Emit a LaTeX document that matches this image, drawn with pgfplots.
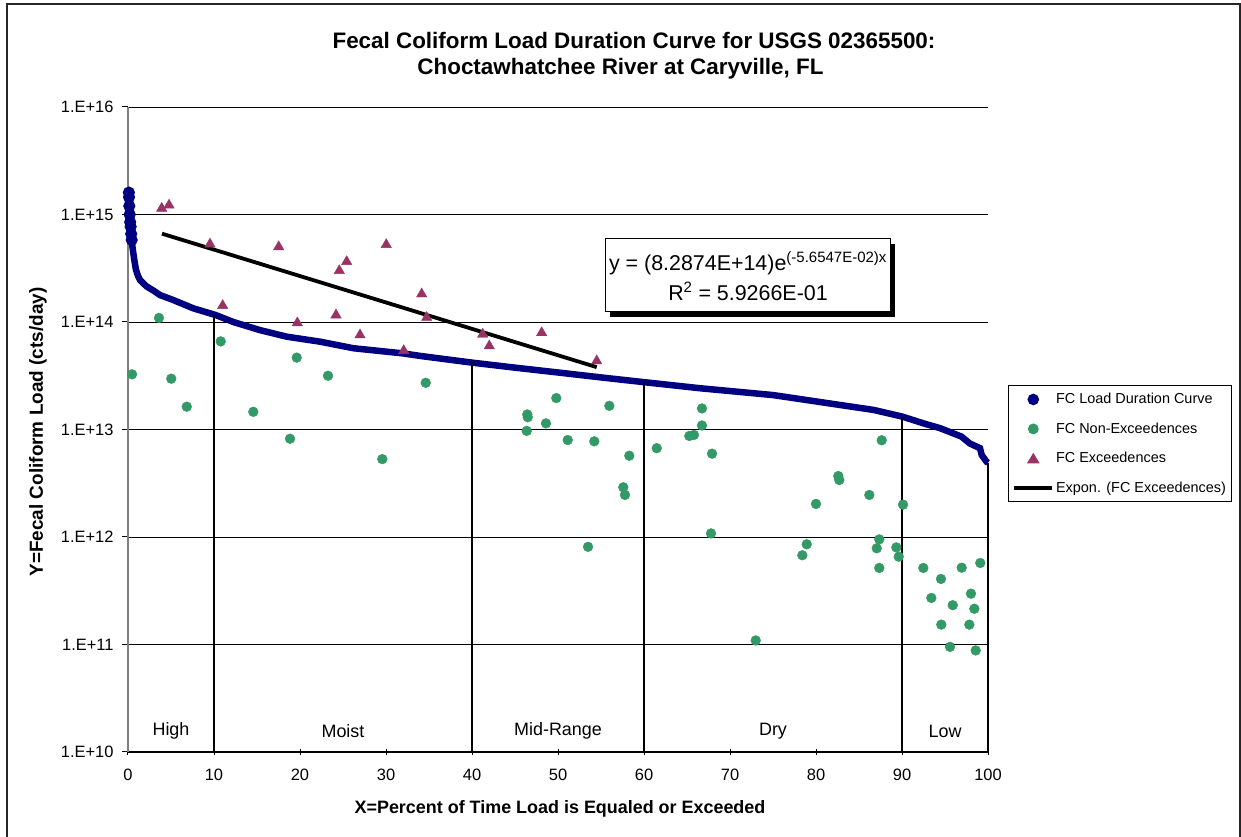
\documentclass[border=0pt]{standalone}
\usepackage{fontspec}
\setmainfont{Liberation Sans}
\usepackage{pgfplots}
\pgfplotsset{compat=1.18}
\definecolor{navy}{RGB}{0,0,128}
\definecolor{seagreen}{RGB}{51,153,102}
\definecolor{plum}{RGB}{153,51,102}
\begin{document}
\begin{tikzpicture}
\useasboundingbox (0,0) rectangle (1241bp,837bp);
\fill[white] (0,0) rectangle (1241bp,837bp);
\draw[line width=2bp, black!85] (7bp,-10bp) -- (7bp,833bp) -- (1240bp,833bp) -- (1240bp,-10bp);
% title
\node[anchor=base, font=\fontsize{22.5}{26}\selectfont\bfseries] at (634bp,788bp) {Fecal Coliform Load Duration Curve for USGS 02365500:};
\node[anchor=base, font=\fontsize{22.5}{26}\selectfont\bfseries] at (620.5bp,762bp) {Choctawhatchee River at Caryville, FL};
% axis labels
\node[rotate=90, font=\fontsize{19}{22}\selectfont\bfseries] at (38bp,405bp) {Y=Fecal Coliform Load (cts/day)};
\node[font=\fontsize{18}{21}\selectfont\bfseries] at (560bp,28bp) {X=Percent of Time Load is Equaled or Exceeded};
\begin{axis}[
  at={(128bp,85bp)}, anchor=south west,
  scale only axis, width=860bp, height=645bp,
  xmin=0, xmax=100, ymin=1e10, ymax=1e16, ymode=log,
  axis x line*=bottom, axis y line*=left,
  x axis line style={black, line width=1bp},
  y axis line style={black!50, line width=1.5bp},
  xtick={0,10,...,100},
  ytick={1e10,1e11,1e12,1e13,1e14,1e15,1e16},
  yticklabels={1.E+10,1.E+11,1.E+12,1.E+13,1.E+14,1.E+15,1.E+16},
  yminorticks=false,
  ymajorgrids, major grid style={black, line width=0.8bp},
  xtick align=center, ytick align=outside,
  major tick length=6bp,
  tick style={black, line width=1bp},
  ticklabel style={font=\fontsize{16.5}{19}\selectfont},
  yticklabel style={xshift=-5bp},
  xticklabel style={yshift=-11bp},
  /pgf/number format/assume math mode=true,
  clip=false,
  legend cell align=left,
  legend style={at={(1.0233,0.569)}, anchor=north west, draw=black, line width=1bp, fill=white,
    font=\fontsize{14.5}{17}\selectfont, inner xsep=4bp, inner ysep=6bp, row sep=13.5bp,
    nodes={inner sep=2bp}},
]
% load duration curve
\addplot[navy, line width=6.5bp, mark=*, mark size=2.6bp, mark indices={1,...,8},
  legend image code/.code={\fill[navy] (23bp,0bp) circle (2.3bp);}] coordinates {
(0.1,1.6e15) (0.12,1.45e15) (0.15,1.2e15) (0.2,1.0e15) (0.25,8.5e14) (0.31,7.7e14)
(0.37,6.6e14) (0.43,5.8e14) (0.52,5.0e14) (0.62,4.36e14) (0.75,3.7e14) (0.93,3.05e14)
(1.15,2.7e14) (1.4,2.46e14) (1.8,2.28e14) (2.17,2.14e14) (3.0,1.95e14) (3.72,1.78e14)
(5.27,1.6e14) (7.59,1.34e14) (10.2,1.16e14) (12.24,1.0e14) (15.35,8.4e13) (18.45,7.3e13)
(22.33,6.56e13) (26.2,5.7e13) (32.0,5.1e13) (34,4.83e13) (40.08,4.18e13) (45,3.76e13)
(50,3.39e13) (55,3.05e13) (60.1,2.75e13) (66.5,2.42e13) (75,2.09e13) (78.9,1.88e13)
(82.8,1.69e13) (86.7,1.52e13) (90,1.32e13) (92.5,1.14e13) (94.4,1.03e13) (96.9,8.6e12)
(97.9,7.4e12) (99.07,6.7e12) (99.26,5.8e12) (99.84,5.0e12) (100,4.9e12)
};
\addlegendentry{FC Load Duration Curve}
% non-exceedences
\addplot[only marks, mark=*, mark size=4.9bp, color=seagreen, fill=seagreen,
  legend image code/.code={\fill[seagreen] (23bp,0bp) circle (4.9bp);}] coordinates {
(0.47,3.26e13) (3.6,1.09e14) (5.03,2.97e13) (6.83,1.63e13) (10.78,6.6e13) (14.57,1.46e13)
(18.84,8.2e12) (19.62,4.66e13) (23.26,3.16e13) (29.57,5.3e12) (34.62,2.72e13)
(46.43,1.38e13) (46.48,1.30e13) (46.36,9.7e12) (48.6,1.14e13) (49.8,1.96e13) (51.13,7.98e12)
(54.22,7.76e12) (55.97,1.66e13) (58.29,5.7e12) (57.59,2.9e12) (57.79,2.46e12) (53.49,8.1e11)
(61.48,6.7e12) (65.27,8.7e12) (65.81,8.9e12) (66.74,1.57e13) (66.74,1.09e13) (67.91,5.96e12)
(67.79,1.08e12) (72.99,1.09e11) (80.0,2.03e12) (82.59,3.69e12) (82.71,3.39e12) (86.2,2.46e12)
(87.64,7.94e12) (90.12,2.0e12) (87.36,9.5e11) (87.06,7.85e11) (89.34,8.0e11) (89.62,6.56e11)
(78.92,8.55e11) (78.41,6.76e11) (87.36,5.15e11) (92.48,5.15e11) (94.53,4.07e11) (96.94,5.18e11)
(99.1,5.73e11) (93.41,2.71e11) (95.9,2.32e11) (98.02,2.97e11) (98.41,2.15e11) (94.57,1.53e11)
(97.83,1.53e11) (95.58,9.5e10) (98.57,8.8e10)
};
\addlegendentry{FC Non-Exceedences}
% exceedences
\addplot[only marks, mark=triangle*, mark size=6bp, color=plum, fill=plum,
  legend image code/.code={\fill[plum] (23bp,4.6bp) -- (28.4bp,-4.4bp) -- (17.6bp,-4.4bp) -- cycle;}] coordinates {
(3.92,1.14e15) (4.77,1.22e15) (9.53,5.3e14) (11.01,1.42e14) (17.52,5.0e14) (19.69,9.8e13)
(24.19,1.16e14) (24.57,3.0e14) (25.43,3.64e14) (26.98,7.57e13) (30.03,5.24e14) (32.06,5.41e13)
(34.15,1.82e14) (34.73,1.10e14) (41.24,7.69e13) (42.01,5.98e13) (48.1,7.94e13) (54.5,4.34e13)
};
\addlegendentry{FC Exceedences}
% exponential trend
\addplot[black, line width=3.8bp,
  legend image code/.code={\draw[black, line width=3.5bp] (4bp,0bp) -- (42bp,0bp);}] coordinates {
(3.95,6.63e14) (54.5,3.80e13)
};
\addlegendentry{Expon. (FC Exceedences)}
% zone separators
\addplot[black, line width=1.3bp, forget plot] coordinates {(10,1e10) (10,1.15e14)};
\addplot[black, line width=1.3bp, forget plot] coordinates {(40,1e10) (40,4.2e13)};
\addplot[black, line width=1.3bp, forget plot] coordinates {(60,1e10) (60,2.75e13)};
\addplot[black, line width=1.3bp, forget plot] coordinates {(90,1e10) (90,1.32e13)};
\addplot[black, line width=1.3bp, forget plot] coordinates {(100,1e10) (100,4.9e12)};
% zone labels
\node[font=\fontsize{18}{21}\selectfont] at (axis cs:5,1.57e10) {High};
\node[font=\fontsize{18}{21}\selectfont] at (axis cs:25,1.57e10) {Moist};
\node[font=\fontsize{18}{21}\selectfont] at (axis cs:50,1.57e10) {Mid-Range};
\node[font=\fontsize{18}{21}\selectfont] at (axis cs:75,1.57e10) {Dry};
\node[font=\fontsize{18}{21}\selectfont] at (axis cs:95,1.57e10) {Low};
\end{axis}
% equation box
\fill[black] (610bp,520bp) rectangle (895bp,593bp);
\draw[fill=white, line width=1bp] (605bp,525bp) rectangle (890bp,598bp);
\node[align=center, font=\fontsize{21.5}{30}\selectfont] at (748bp,561bp) {y = (8.2874E+14)e\textsuperscript{(-5.6547E-02)x}\\R\textsuperscript{2} = 5.9266E-01};
\end{tikzpicture}
\end{document}
